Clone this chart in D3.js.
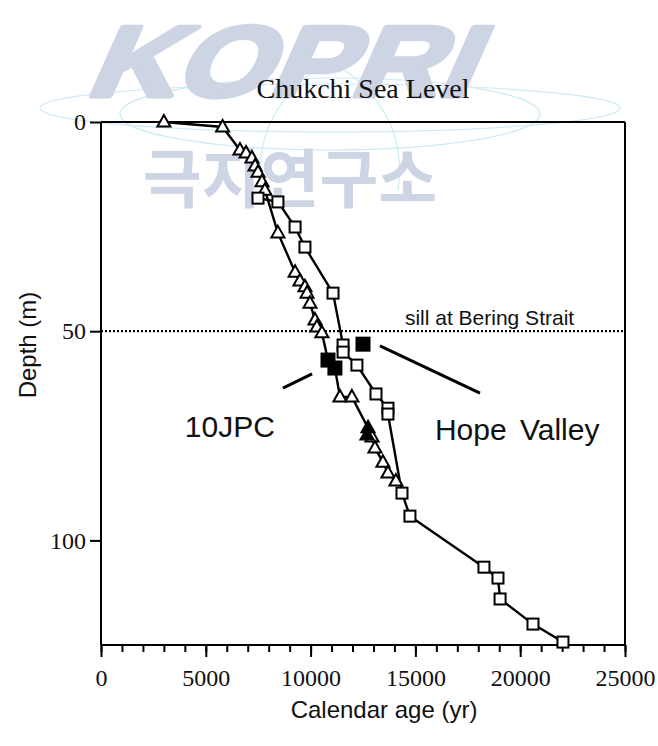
<!DOCTYPE html>
<html><head><meta charset="utf-8">
<script src="https://cdn.jsdelivr.net/npm/d3@7"></script>
<style>body{margin:0;background:#fff}svg{display:block}</style>
</head><body>
<svg id="c" width="658" height="746"></svg>
<script>
// ---- data ----
const xTicksMajor = [0, 5000, 10000, 15000, 20000, 25000];
const yTicksMajor = [0, 50, 100];
// 10JPC open triangles [age (yr), depth (m)]
const tri10JPC = [[3000,0],[5800,1.2],[6630,6.7],[6920,7.4],[7200,8.6],[7350,10.5],[7490,12.0],[7680,14.3],[7820,16.3],[8440,26.5],[9260,35.9],[9490,38.0],[9730,39.4],[9830,40.9],[9970,43.3],[10210,47.3],[10300,49.0],[10540,50.4],[11400,65.7],[11970,65.7],[12930,75.3],[13070,77.9],[13450,81.3],[13690,83.9],[14070,85.8]];
// 10JPC filled squares and filled triangles
const filledSq10JPC = [[10830,56.9],[11160,58.8]];
const filledTri10JPC = [[12740,73.1],[12690,74.8]];
// Hope Valley open squares
const sqHope = [[7490,18.2],[8440,19.1],[9260,25.1],[9730,29.9],[11070,40.9],[11550,53.3],[11550,55.0],[12210,58.1],[13120,65.0],[13690,68.4],[13690,69.8],[14360,88.7],[14740,94.2],[18270,106.4],[18940,109.0],[19040,114.0],[20610,120.0],[22040,124.3]];
// Hope Valley filled square
const filledSqHope = [[12500,53.1]];
const sillDepth = 50;
const title = "Chukchi Sea Level";
const xTitle = "Calendar age (yr)";
const yTitle = "Depth (m)";
const sillLabel = "sill at Bering Strait";
const seriesLabels = ["10JPC", "Hope Valley"];

// ---- layout ----
const svg = d3.select("#c");
const L = 101, R = 625, T = 122, B = 645;
const x = d3.scaleLinear().domain([0, 25000]).range([L, R]);
const y = d3.scaleLinear().domain([0, 125]).range([T, B]);
const sans = "'Liberation Sans', Arial, sans-serif";
const serif = "'Liberation Serif', 'Times New Roman', serif";

// ---- watermark ----
const wm = svg.append("g").attr("class", "watermark");
const arcs = wm.append("g").attr("fill", "none").attr("stroke", "#cdebf4").attr("stroke-width", 1.2);
arcs.append("ellipse").attr("cx", 330).attr("cy", 108).attr("rx", 290).attr("ry", 24);
arcs.append("ellipse").attr("cx", 330).attr("cy", 114).attr("rx", 210).attr("ry", 36);
arcs.append("path").attr("d", "M330,60 Q250,110 262,190");
arcs.append("path").attr("d", "M330,60 Q410,110 398,190");
wm.append("text").text("KOPRI")
  .attr("x", 0).attr("y", 0)
  .attr("transform", "translate(84,96) skewX(-24)")
  .attr("font-family", sans).attr("font-weight", "bold")
  .attr("font-size", 100)
  .attr("textLength", 385).attr("lengthAdjust", "spacingAndGlyphs")
  .attr("fill", "#cdd4e3").attr("stroke", "#cdd4e3").attr("stroke-width", 5)
  .attr("stroke-linejoin", "round");
wm.append("text").text("극지연구소")
  .attr("x", 290).attr("y", 202).attr("text-anchor", "middle")
  .attr("font-family", "'Noto Sans CJK KR', sans-serif").attr("font-weight", "bold")
  .attr("font-size", 64).attr("fill", "#cdd4e3");

// ---- title ----
svg.append("text").text(title)
  .attr("x", 363).attr("y", 98).attr("text-anchor", "middle")
  .style("font-family", serif).attr("font-size", 28).attr("fill", "#111");

// ---- axes / frame ----
const frame = svg.append("g").attr("stroke", "#000").attr("stroke-width", 2).attr("fill", "none");
frame.append("line").attr("x1", L).attr("x2", R).attr("y1", T).attr("y2", T);
frame.append("line").attr("x1", R).attr("x2", R).attr("y1", T).attr("y2", B);

const xAxis = d3.axisBottom(x).tickValues(d3.range(0, 25001, 1000))
  .tickSize(7).tickFormat("");
const gx = svg.append("g").attr("transform", `translate(0,${B})`).call(xAxis);
const gxMaj = svg.append("g").attr("transform", `translate(0,${B})`)
  .call(d3.axisBottom(x).tickValues(xTicksMajor).tickSize(12).tickPadding(12).tickFormat(d3.format("d")));
const yAx = svg.append("g").attr("transform", `translate(${L},0)`)
  .call(d3.axisLeft(y).tickValues(yTicksMajor).tickSize(11).tickPadding(4).tickFormat(d3.format("d")));
[gx, gxMaj, yAx].forEach(g => {
  g.attr("font-family", null).attr("font-size", null);
  g.select(".domain").attr("stroke", "#000").attr("stroke-width", 2);
  g.selectAll(".tick line").attr("stroke", "#000").attr("stroke-width", 2);
  g.selectAll(".tick text").style("font-family", serif).style("font-size", "24px").attr("fill", "#111");
});
gxMaj.select(".domain").remove();
gx.select(".domain").attr("d", `M${L},0H${R}`);
yAx.select(".domain").attr("d", `M0,${T}V${B}`);

svg.append("text").text(xTitle)
  .attr("x", 384).attr("y", 718).attr("text-anchor", "middle")
  .attr("font-family", sans).attr("font-size", 24).attr("fill", "#111");
svg.append("text").text(yTitle)
  .attr("transform", `translate(36,${345}) rotate(-90)`).attr("text-anchor", "middle")
  .attr("font-family", sans).attr("font-size", 24).attr("fill", "#111");

// ---- sill line ----
svg.append("line").attr("x1", L).attr("x2", R).attr("y1", y(sillDepth)).attr("y2", y(sillDepth))
  .attr("stroke", "#000").attr("stroke-width", 2.2).attr("stroke-dasharray", "2,2");
svg.append("text").text(sillLabel)
  .attr("x", x(14500)).attr("y", y(sillDepth) - 6)
  .attr("font-family", sans).attr("font-size", 21).attr("fill", "#111");

// ---- series lines ----
const line = d3.line().x(d => x(d[0])).y(d => y(d[1]));
const jpcLine = [...tri10JPC, ...filledSq10JPC, ...filledTri10JPC].sort((a, b) => a[1] - b[1]);
svg.append("path").attr("d", line(jpcLine)).attr("fill", "none").attr("stroke", "#000").attr("stroke-width", 2.4);
svg.append("path").attr("d", line(sqHope)).attr("fill", "none").attr("stroke", "#000").attr("stroke-width", 2.4);

// ---- markers ----
const triPath = "M0,-7L6.5,4.5L-6.5,4.5Z";
function tris(data, fill) {
  svg.append("g").selectAll("path").data(data).join("path")
    .attr("d", triPath).attr("transform", d => `translate(${x(d[0])},${y(d[1])})`)
    .attr("fill", fill).attr("stroke", "#000").attr("stroke-width", 2);
}
function squares(data, fill, s) {
  svg.append("g").selectAll("rect").data(data).join("rect")
    .attr("x", d => x(d[0]) - s / 2).attr("y", d => y(d[1]) - s / 2)
    .attr("width", s).attr("height", s)
    .attr("fill", fill).attr("stroke", "#000").attr("stroke-width", 2);
}
tris(tri10JPC, "#fff");
squares(sqHope, "#fff", 11);
squares(filledSq10JPC, "#000", 13);
tris(filledTri10JPC, "#000");
squares(filledSqHope, "#000", 13);

// ---- annotations ----
const ann = svg.append("g").attr("stroke", "#000").attr("stroke-width", 3);
ann.append("line").attr("x1", x(8680)).attr("y1", y(63.6)).attr("x2", x(10070)).attr("y2", y(60.2));
ann.append("line").attr("x1", x(13310)).attr("y1", y(53.5)).attr("x2", x(18080)).attr("y2", y(64.8));
svg.append("text").text(seriesLabels[0])
  .attr("x", x(4000)).attr("y", y(75.3))
  .attr("font-family", sans).attr("font-size", 30).attr("fill", "#111");
svg.append("text").text(seriesLabels[1])
  .attr("x", x(15930)).attr("y", y(76)).attr("word-spacing", 5)
  .attr("font-family", sans).attr("font-size", 30).attr("fill", "#111");
</script>
</body></html>
